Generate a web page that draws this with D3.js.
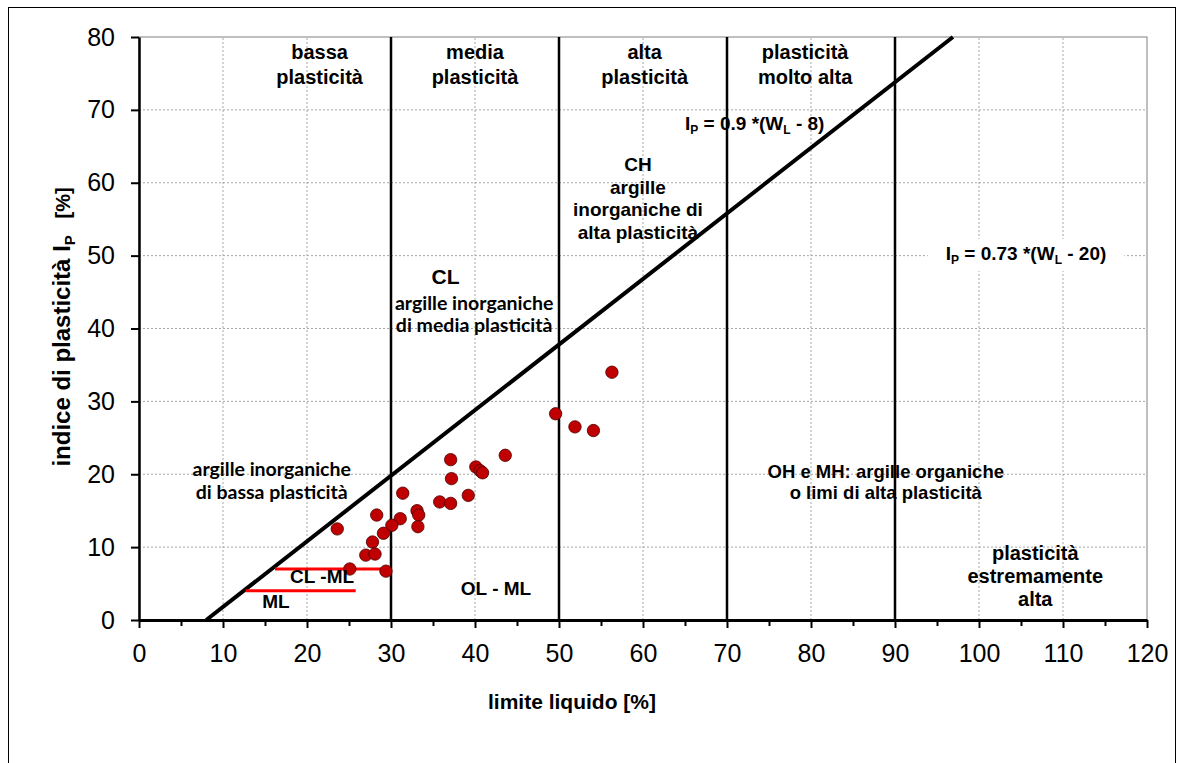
<!DOCTYPE html>
<html>
<head>
<meta charset="utf-8">
<script src="https://cdn.jsdelivr.net/npm/d3@7"></script>
<style>
  body { margin: 0; background: #fff; }
  svg { display: block; font-family: "Liberation Sans", Arial, sans-serif; }
</style>
</head>
<body>
<svg width="1183" height="763"></svg>
<script>

// measured samples: liquid limit WL [%] and plasticity index IP [%]
var liquidLimit = [56.3, 49.6, 51.9, 54.1, 43.6, 37.1, 40.1, 40.6, 40.9, 37.2, 31.4,
                   39.2, 35.8, 37.1, 33.1, 33.3, 31.1, 28.3, 33.2, 30.1, 29.1, 27.8,
                   23.6, 27.0, 28.1, 25.1, 29.4];
var plasticityIndex = [34.0, 28.3, 26.5, 26.0, 22.6, 22.0, 21.0, 20.5, 20.2, 19.4, 17.4,
                       17.1, 16.2, 16.0, 15.0, 14.4, 13.9, 14.4, 12.8, 13.0, 11.9, 10.7,
                       12.5, 8.9, 9.05, 7.0, 6.7];

var xTickValues = [0, 10, 20, 30, 40, 50, 60, 70, 80, 90, 100, 110, 120];
var xMinorTicks = [5, 15, 25, 35, 45, 55, 65, 75, 85, 95, 105, 115];
var yTickValues = [0, 10, 20, 30, 40, 50, 60, 70, 80];

// plasticity class boundaries on WL
var classBounds = [30, 50, 70, 90];
// line IP = 0.9*(WL - 8)
var uLine = [[8, 0], [96.9, 80]];
// CL-ML / ML strips
var clmlLine = [[16.2, 7], [28.9, 7]];
var mlLine = [[12.7, 4], [25.8, 4]];

window.onload = function(){

  var svg = d3.select('svg');

  var x = d3.scaleLinear().domain([0, 120]).range([139, 1147]);
  var y = d3.scaleLinear().domain([0, 80]).range([620, 37]);

  // outer frame
  svg.append('rect')
     .attr('x', 8.5).attr('y', 7.5)
     .attr('width', 1167).attr('height', 770)
     .attr('fill', 'none').attr('stroke', '#000').attr('stroke-width', 1);

  // grid
  var grid = svg.append('g')
                .attr('stroke', '#a6a6a6')
                .attr('stroke-width', 1)
                .attr('stroke-dasharray', '2,2');
  grid.selectAll('line.v')
      .data(xTickValues.slice(1, -1))
      .enter().append('line')
        .attr('x1', function(d){ return x(d) }).attr('x2', function(d){ return x(d) })
        .attr('y1', y(0)).attr('y2', y(80));
  grid.selectAll('line.h')
      .data(yTickValues.slice(1, -1))
      .enter().append('line')
        .attr('x1', x(0)).attr('x2', x(120))
        .attr('y1', function(d){ return y(d) }).attr('y2', function(d){ return y(d) });

  // plot area border
  svg.append('rect')
     .attr('x', x(0)).attr('y', y(80))
     .attr('width', x(120) - x(0)).attr('height', y(0) - y(80))
     .attr('fill', 'none').attr('stroke', '#808080').attr('stroke-width', 1);

  // class boundaries
  svg.selectAll('line.bound')
     .data(classBounds)
     .enter().append('line')
       .attr('x1', function(d){ return x(d) }).attr('x2', function(d){ return x(d) })
       .attr('y1', y(0)).attr('y2', y(80))
       .attr('stroke', '#000').attr('stroke-width', 2.5);

  var line = d3.line()
               .x(function(d){ return x(d[0]) })
               .y(function(d){ return y(d[1]) });

  svg.append('path').attr('d', line(uLine))
     .attr('stroke', '#000').attr('stroke-width', 4).attr('fill', 'none');

  svg.selectAll('path.red')
     .data([clmlLine, mlLine])
     .enter().append('path')
       .attr('d', line)
       .attr('stroke', '#ff0000').attr('stroke-width', 3).attr('fill', 'none');

  // axes
  var xAxis = svg.append('g')
                 .attr('transform', 'translate(0,' + y(0) + ')')
                 .call(d3.axisBottom(x).tickValues(xTickValues).tickSize(8).tickPadding(16).tickSizeOuter(0));
  svg.append('g')
     .attr('transform', 'translate(0,' + y(0) + ')')
     .call(d3.axisBottom(x).tickValues(xMinorTicks).tickSize(6).tickFormat('').tickSizeOuter(0))
     .select('.domain').remove();
  xAxis.select('.domain').attr('stroke-width', 3);

  var yAxis = svg.append('g')
                 .attr('transform', 'translate(' + x(0) + ',0)')
                 .call(d3.axisLeft(y).tickValues(yTickValues).tickSize(8).tickPadding(16).tickSizeOuter(0));
  yAxis.select('.domain').attr('stroke-width', 2.5);

  svg.selectAll('.tick line').attr('stroke', '#000').attr('stroke-width', 2);
  svg.selectAll('.tick text')
     .attr('font-family', '"Liberation Sans", Arial, sans-serif')
     .attr('font-size', 25).attr('fill', '#000');

  // points
  svg.selectAll('circle')
     .data(liquidLimit)
     .enter().append('circle')
       .attr('cx', function(d){ return x(d) })
       .attr('cy', function(d, i){ return y(plasticityIndex[i]) })
       .attr('r', 6.2)
       .attr('fill', '#c00000')
       .attr('stroke', '#4a0000')
       .attr('stroke-width', 0.8);

  // axis titles
  svg.append('text')
     .attr('x', 572).attr('y', 709)
     .attr('text-anchor', 'middle')
     .attr('font-size', 21).attr('font-weight', 'bold')
     .text('limite liquido [%]');

  var yt = svg.append('text')
              .attr('transform', 'translate(70,327) rotate(-90)')
              .attr('text-anchor', 'middle')
              .attr('font-size', 24).attr('font-weight', 'bold')
              .attr('xml:space', 'preserve');
  yt.append('tspan').text('indice di plasticità I');
  yt.append('tspan').attr('font-size', 15).attr('dy', 5).text('P');
  yt.append('tspan').attr('dy', -5).attr('font-size', 20).text('   [%]');

  // annotations
  function label(lines, cx, cy, size, lh, font){
    var t = svg.append('text')
               .attr('text-anchor', 'middle')
               .attr('font-size', size)
               .attr('font-weight', 'bold')
               .attr('font-family', font || '"Liberation Sans", Arial, sans-serif');
    lines.forEach(function(s, i){
      t.append('tspan').attr('x', x(cx)).attr('y', y(cy) + i * lh).text(s);
    });
    return t;
  }

  var calibriLike = 'Lato, "Open Sans", sans-serif';

  label(['bassa', 'plasticità'], 21.5, 77.0, 20, 25);
  label(['media', 'plasticità'], 40.0, 77.0, 20, 25);
  label(['alta', 'plasticità'], 60.2, 77.0, 20, 25);
  label(['plasticità', 'molto alta'], 79.3, 77.0, 20, 25);

  label(['CH', 'argille', 'inorganiche di', 'alta plasticità'], 59.4, 61.6, 19, 22.5);

  label(['CL'], 36.5, 46.1, 21, 0);
  label(['argille inorganiche', 'di media plasticità'], 39.9, 42.6, 19.5, 22, calibriLike);
  label(['argille inorganiche', 'di bassa plasticità'], 15.8, 19.7, 19.5, 23, calibriLike);

  label(['CL -ML'], 21.8, 5.1, 19, 0);
  label(['ML'], 16.3, 1.6, 19, 0);
  label(['OL - ML'], 42.5, 3.4, 19, 0);

  label(['OH e MH: argille organiche', 'o limi di alta plasticità'], 88.9, 19.5, 18.5, 21.5);
  label(['plasticità', 'estremamente', 'alta'], 106.7, 8.2, 20, 23);

  // equations with subscripts
  function equation(cx, cy, parts){
    var t = svg.append('text')
               .attr('x', x(cx)).attr('y', y(cy))
               .attr('text-anchor', 'middle')
               .attr('font-size', 19).attr('font-weight', 'bold')
               .attr('xml:space', 'preserve');
    parts.forEach(function(p){
      var s = t.append('tspan').text(p[0]);
      if (p[1]) s.attr('font-size', 12).attr('dy', 4);
      if (p[2]) s.attr('dy', -4);
    });
    return t;
  }

  var box = svg.append('rect')
               .attr('fill', '#fff');
  var eq2 = equation(105.6, 49.4, [['I'], ['P', 1], [' = 0.73 *(W', 0, 1], ['L', 1], [' - 20)', 0, 1]]);
  var bb = eq2.node().getBBox();
  box.attr('x', bb.x - 18).attr('y', bb.y - 4)
     .attr('width', bb.width + 36).attr('height', bb.height + 8);

  equation(73.3, 67.3, [['I'], ['P', 1], [' = 0.9 *(W', 0, 1], ['L', 1], [' - 8)', 0, 1]]);

}

</script>
</body>
</html>
